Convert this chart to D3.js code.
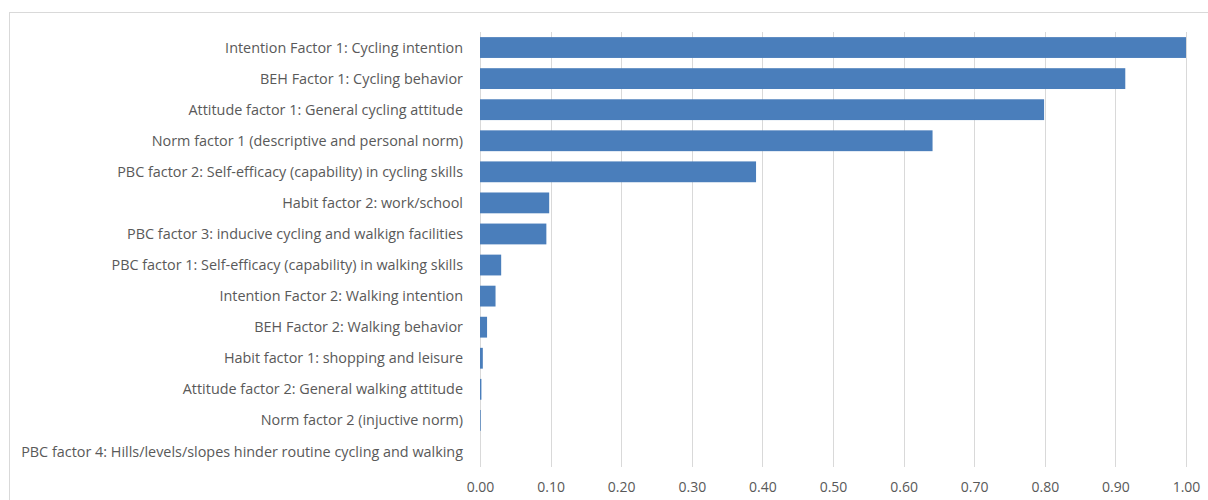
<!DOCTYPE html>
<html>
<head>
<meta charset="utf-8">
<script src="https://cdn.jsdelivr.net/npm/d3@7"></script>
<style>
  body { margin: 0; background: #fff; }
  text { font-family: "Open Sans", "Noto Sans", sans-serif; }
</style>
</head>
<body>
<div id="chart"></div>
<script>
// data, top to bottom
var categories = [
    "Intention Factor 1: Cycling intention",
    "BEH Factor 1: Cycling behavior",
    "Attitude factor 1: General cycling attitude",
    "Norm factor 1 (descriptive and personal norm)",
    "PBC factor 2: Self-efficacy (capability) in cycling skills",
    "Habit factor 2: work/school",
    "PBC factor 3: inducive cycling and walkign facilities",
    "PBC factor 1: Self-efficacy (capability) in walking skills",
    "Intention Factor 2: Walking intention",
    "BEH Factor 2: Walking behavior",
    "Habit factor 1: shopping and leisure",
    "Attitude factor 2: General walking attitude",
    "Norm factor 2 (injuctive norm)",
    "PBC factor 4: Hills/levels/slopes hinder routine cycling and walking"
];
var values = [1.00, 0.914, 0.799, 0.641, 0.391, 0.098, 0.094, 0.030, 0.022, 0.010, 0.004, 0.002, 0.001, 0.0];
var ticks = [0, 0.1, 0.2, 0.3, 0.4, 0.5, 0.6, 0.7, 0.8, 0.9, 1.0];

var barColor = "#4a7ebb";
var textColor = "#595959";
var gridColor = "#d9d9d9";

var width = 1208, height = 500;
var plotLeft = 480, plotRight = 1186, plotTop = 32, plotBottom = 467;

var svg = d3.select("#chart").append("svg")
    .attr("width", width)
    .attr("height", height);

// chart border
svg.append("rect")
    .attr("x", 9.5).attr("y", 12.5)
    .attr("width", 1220).attr("height", 520)
    .attr("fill", "none")
    .attr("stroke", gridColor);

var x = d3.scaleLinear().domain([0, 1]).range([plotLeft, plotRight]);
var y = d3.scaleBand().domain(categories).range([plotTop, plotBottom]).paddingInner(0.33).paddingOuter(0.165);

// gridlines
svg.append("g").selectAll("line")
    .data(ticks)
    .enter().append("line")
    .attr("x1", d => Math.round(x(d)) + 0.5)
    .attr("x2", d => Math.round(x(d)) + 0.5)
    .attr("y1", plotTop)
    .attr("y2", plotBottom)
    .attr("stroke", gridColor)
    .attr("stroke-width", 1);

// bars
svg.append("g").selectAll("rect")
    .data(values)
    .enter().append("rect")
    .attr("x", x(0))
    .attr("y", (d, i) => y(categories[i]))
    .attr("width", d => x(d) - x(0))
    .attr("height", y.bandwidth())
    .attr("fill", barColor);

// category labels
svg.append("g").selectAll("text")
    .data(categories)
    .enter().append("text")
    .attr("x", 463)
    .attr("y", d => y(d) + y.bandwidth() / 2)
    .attr("dy", "0.35em")
    .attr("text-anchor", "end")
    .attr("font-size", "14.4px")
    .attr("fill", textColor)
    .text(d => d);

// x axis
var xAxis = d3.axisBottom(x)
    .tickValues(ticks)
    .tickFormat(d3.format(".2f"))
    .tickSize(0)
    .tickPadding(15);

var gx = svg.append("g")
    .attr("transform", `translate(0,${plotBottom})`)
    .call(xAxis);
gx.select(".domain").remove();
gx.selectAll("text")
    .attr("font-family", "'Open Sans', sans-serif")
    .attr("font-size", "14px")
    .attr("fill", textColor);
</script>
</body>
</html>
